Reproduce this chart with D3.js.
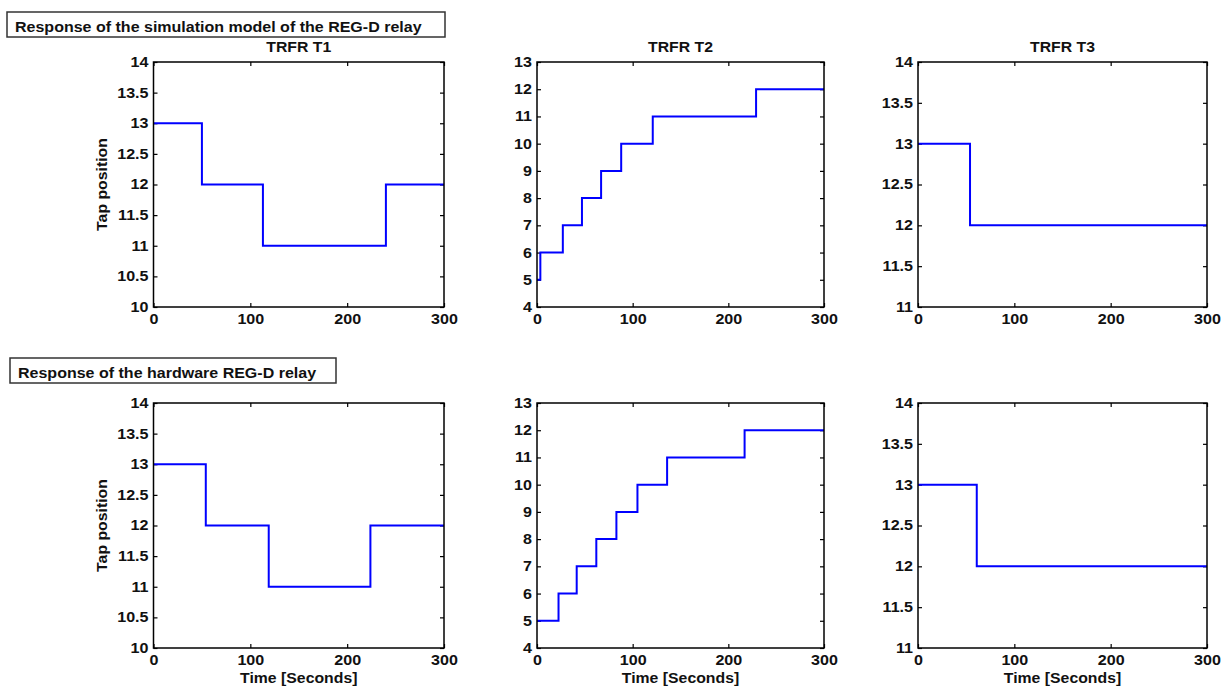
<!DOCTYPE html>
<html>
  <head>
    <meta charset="utf-8">
    <title>REG-D relay response</title>
    <script src="https://d3js.org/d3.v7.min.js"></script>
    <style>
      body { margin: 0; background: #fff; }
      svg { display: block; font-family: "Liberation Sans", Arial, sans-serif; font-weight: bold; }
    </style>
  </head>

  <body>
    <svg id="canvas" width="1223" height="689"></svg>
    <script>
      // data: times (s) where the tap changes, and the tap held from there
      const simT1Time = [0, 50, 113, 240, 300];
      const simT1Tap  = [13, 12, 11, 12, 12];
      const simT2Time = [0, 3.5, 27, 47, 67, 88, 121, 229, 300];
      const simT2Tap  = [5, 6, 7, 8, 9, 10, 11, 12, 12];
      const simT3Time = [0, 54, 300];
      const simT3Tap  = [13, 12, 12];
      const hwT1Time = [0, 54, 119, 224, 300];
      const hwT1Tap  = [13, 12, 11, 12, 12];
      const hwT2Time = [0, 22.5, 41.5, 62, 83, 105, 136, 217, 300];
      const hwT2Tap  = [5, 6, 7, 8, 9, 10, 11, 12, 12];
      const hwT3Time = [0, 61, 300];
      const hwT3Tap  = [13, 12, 12];

      const transformers = ["TRFR T1", "TRFR T2", "TRFR T3"];
      const yDomains = [[10, 14], [4, 13], [11, 14]];
      const yTicks = [
        [10, 10.5, 11, 11.5, 12, 12.5, 13, 13.5, 14],
        [4, 5, 6, 7, 8, 9, 10, 11, 12, 13],
        [11, 11.5, 12, 12.5, 13, 13.5, 14]
      ];
      const xTicks = [0, 100, 200, 300];
      const rowTitles = ["Response of the simulation model of the REG-D relay", "Response of the hardware REG-D relay"];

      // layout
      const colLeft = [153.5, 537, 918];
      const colWidth = [290.5, 287, 289];
      const rowTop = [62, 403];
      const plotHeight = 245;
      const tickFont = 14, labelFont = 14;
      const sxTick = 1.15, sxLabel = 1.13;   // the source text is stretched sideways

      canvas = d3.select("#canvas");
      canvas.append("rect").attr("width", 1223).attr("height", 689).attr("fill", "#fff");

      const series = [
        [[simT1Time, simT1Tap], [simT2Time, simT2Tap], [simT3Time, simT3Tap]],
        [[hwT1Time, hwT1Tap], [hwT2Time, hwT2Tap], [hwT3Time, hwT3Tap]]
      ];

      // row banners
      const banners = [
        { x: 7, y: 12, w: 438, h: 25, tx: 15, ty: 31.5 },
        { x: 10, y: 358, w: 326, h: 25, tx: 18, ty: 377.5 }
      ];
      banners.forEach(function(b, i) {
        canvas.append("rect")
          .attr("x", b.x).attr("y", b.y)
          .attr("width", b.w).attr("height", b.h)
          .attr("fill", "#fff")
          .attr("stroke", "#333")
          .attr("stroke-width", 1.5);
        canvas.append("text")
          .attr("transform", "translate(" + b.tx + "," + b.ty + ") scale(1.145,1)")
          .attr("font-size", 14)
          .attr("fill", "#111")
          .text(rowTitles[i]);
      });

      for (let r = 0; r < 2; r++) {
        for (let c = 0; c < 3; c++) {
          drawPanel(r, c);
        }
      }

      function stretch(sel, sx) {
        sel.selectAll("text")
          .attr("x", function() { return (+this.getAttribute("x") || 0) / sx; })
          .attr("transform", "scale(" + sx + ",1)");
      }

      function drawPanel(r, c) {
        let w = colWidth[c], h = plotHeight;
        let g = canvas.append("g")
          .attr("transform", "translate(" + colLeft[c] + "," + rowTop[r] + ")");
        let x = d3.scaleLinear().domain([0, 300]).range([0, w]);
        let y = d3.scaleLinear().domain(yDomains[c]).range([h, 0]);

        // left and bottom axes, ticks pointing inward
        let yAxis = g.append("g")
          .call(d3.axisLeft(y).tickValues(yTicks[c]).tickFormat(d3.format("~g"))
            .tickSizeInner(-4).tickSizeOuter(0).tickPadding(5));
        let xAxis = g.append("g")
          .attr("transform", "translate(0," + h + ")")
          .call(d3.axisBottom(x).tickValues(xTicks)
            .tickSizeInner(-4).tickSizeOuter(0).tickPadding(7));
        // mirrored ticks on top and right
        g.append("g")
          .attr("transform", "translate(" + w + ",0)")
          .call(d3.axisRight(y).tickValues(yTicks[c]).tickFormat("").tickSizeInner(-4).tickSizeOuter(0));
        g.append("g")
          .call(d3.axisTop(x).tickValues(xTicks).tickFormat("").tickSizeInner(-4).tickSizeOuter(0));

        g.selectAll(".domain").remove();
        g.selectAll(".tick line").attr("stroke", "#000").attr("stroke-width", 1.2);
        g.selectAll(".tick text").attr("font-size", tickFont).attr("fill", "#111")
          .attr("font-family", "Liberation Sans, Arial, sans-serif").attr("font-weight", "bold");
        stretch(yAxis, sxTick);
        stretch(xAxis, sxTick);

        // step line
        let t = series[r][c][0], v = series[r][c][1];
        let pts = t.map(function(d, i) { return [d, v[i]]; });
        g.append("path")
          .datum(pts)
          .attr("fill", "none")
          .attr("stroke", "#0000ff")
          .attr("stroke-width", 2)
          .attr("d", d3.line()
            .x(function(d) { return x(d[0]); })
            .y(function(d) { return y(d[1]); })
            .curve(d3.curveStepAfter));

        // box
        g.append("rect")
          .attr("width", w).attr("height", h)
          .attr("fill", "none")
          .attr("stroke", "#000")
          .attr("stroke-width", 1.5);

        if (r == 0) {
          g.append("text")
            .attr("transform", "translate(" + (w / 2) + ",-10) scale(" + sxLabel + ",1)")
            .attr("text-anchor", "middle")
            .attr("font-size", labelFont)
            .attr("fill", "#111")
            .text(transformers[c]);
        }
        if (c == 0) {
          g.append("text")
            .attr("transform", "translate(-47," + (h / 2) + ") rotate(-90) scale(" + sxLabel + ",1)")
            .attr("text-anchor", "middle")
            .attr("font-size", labelFont)
            .attr("fill", "#111")
            .text("Tap position");
        }
        if (r == 1) {
          g.append("text")
            .attr("transform", "translate(" + (w / 2) + "," + (h + 35) + ") scale(" + sxLabel + ",1)")
            .attr("text-anchor", "middle")
            .attr("font-size", labelFont)
            .attr("fill", "#111")
            .text("Time [Seconds]");
        }
      }
    </script>
  </body>
</html>
